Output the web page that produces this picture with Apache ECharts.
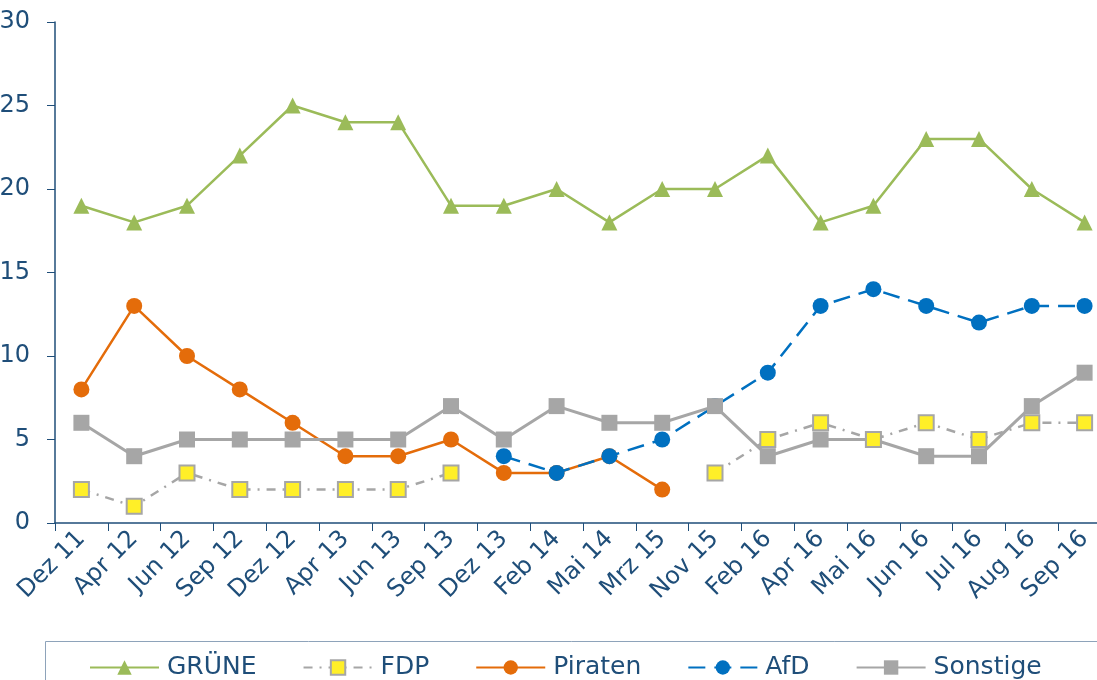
<!DOCTYPE html>
<html><head><meta charset="utf-8">
<script src="https://cdn.jsdelivr.net/npm/echarts@6/dist/echarts.min.js"></script>
<style>html,body{margin:0;padding:0;background:#fff}#c{width:1097px;height:680px}</style>
</head><body><div id="c"></div>
<script>
const categories = ['Dez 11','Apr 12','Jun 12','Sep 12','Dez 12','Apr 13','Jun 13','Sep 13','Dez 13','Feb 14','Mai 14','Mrz 15','Nov 15','Feb 16','Apr 16','Mai 16','Jun 16','Jul 16','Aug 16','Sep 16'];
const gruene   = [19,18,19,22,25,24,24,19,19,20,18,20,20,22,18,19,23,23,20,18];
const fdp      = [2,1,3,2,2,2,2,3,null,null,null,null,3,5,6,5,6,5,6,6];
const piraten  = [8,13,10,8,6,4,4,5,3,3,4,2,null,null,null,null,null,null,null,null];
const afd      = [null,null,null,null,null,null,null,null,4,3,4,5,7,9,13,14,13,12,13,13];
const sonstige = [6,4,5,5,5,5,5,7,5,7,6,6,7,4,5,5,4,4,7,9];
const yTicks = [0,5,10,15,20,25,30];

const axisBlue = '#1F4E79';
const font = 'DejaVu Sans';
const chart = echarts.init(document.getElementById('c'));
chart.setOption({
  animation: false,
  textStyle: {fontFamily: font},
  grid: {left: 55, top: 22, width: 1056, height: 501, containLabel: false, outerBoundsMode: 'none'},
  xAxis: {
    type: 'category', data: categories, boundaryGap: true,
    axisLine: {lineStyle: {color: axisBlue, width: 1.5}},
    axisTick: {show: true, length: 8, lineStyle: {color: axisBlue}},
    axisLabel: {rotate: 45, color: axisBlue, fontSize: 24, fontFamily: font, margin: 12, interval: 0}
  },
  yAxis: {
    type: 'value', min: yTicks[0], max: yTicks[yTicks.length-1], interval: 5,
    axisLine: {show: true, lineStyle: {color: axisBlue, width: 1.5}},
    axisTick: {show: true, length: 8, lineStyle: {color: axisBlue}},
    splitLine: {show: false},
    axisLabel: {color: axisBlue, fontSize: 24, fontFamily: font, margin: 25}
  },
  legend: {
    left: 84, top: 650, itemWidth: 69, itemHeight: 18, itemGap: 46,
    textStyle: {color: axisBlue, fontSize: 25, fontFamily: font, padding: [0,0,0,3]},
    data: ['GRÜNE','FDP','Piraten','AfD','Sonstige']
  },
  graphic: [{type: 'rect', shape: {x: 45.5, y: 641.5, width: 1100, height: 60},
    style: {fill: 'none', stroke: '#8EA3BA', lineWidth: 1}, z: -1}],
  series: [
    {name: 'GRÜNE', type: 'line', data: gruene, symbol: 'triangle', symbolSize: 16, z: 2,
      lineStyle: {color: '#9BBB59', width: 2.5}, itemStyle: {color: '#9BBB59'}},
    {name: 'FDP', type: 'line', data: fdp, symbol: 'rect', symbolSize: 15, z: 6,
      lineStyle: {color: '#A6A6A6', width: 2.5, type: [9,7,2,7]},
      itemStyle: {color: '#FFEF28', borderColor: '#A6A6A6', borderWidth: 2}},
    {name: 'Piraten', type: 'line', data: piraten, symbol: 'circle', symbolSize: 16, z: 3,
      lineStyle: {color: '#E46C0A', width: 2.5}, itemStyle: {color: '#E46C0A'}},
    {name: 'AfD', type: 'line', data: afd, symbol: 'circle', symbolSize: 16, z: 4,
      lineStyle: {color: '#0070C0', width: 2.5, type: [17,9]}, itemStyle: {color: '#0070C0'}},
    {name: 'Sonstige', type: 'line', data: sonstige, symbol: 'rect', symbolSize: 16, z: 5,
      lineStyle: {color: '#A6A6A6', width: 3}, itemStyle: {color: '#A6A6A6'}}
  ]
});
</script></body></html>
